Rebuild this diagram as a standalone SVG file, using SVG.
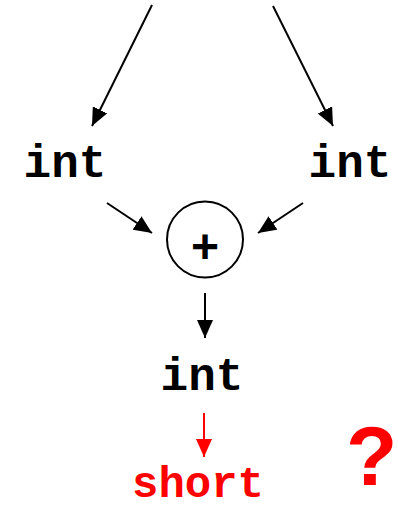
<svg xmlns="http://www.w3.org/2000/svg" width="398" height="511" viewBox="0 0 398 511">
<style>
.t{font-family:"Liberation Mono","Courier New",monospace;font-weight:bold;font-size:46px}
.blk{fill:#000}
.red{fill:#ff0000}
.c{stroke:#000;stroke-width:2;fill:none}
.cr{stroke:#ff0000;stroke-width:2;fill:none}
</style>
<defs>
<marker id="ahb" markerWidth="18" markerHeight="16" refX="18" refY="8" orient="auto" markerUnits="userSpaceOnUse" viewBox="0 0 18 16">
<path d="M0,0 L18,8 L0,16 z" fill="#000"/>
</marker>
<marker id="ahr" markerWidth="18" markerHeight="16" refX="18" refY="8" orient="auto" markerUnits="userSpaceOnUse" viewBox="0 0 18 16">
<path d="M0,0 L18,8 L0,16 z" fill="#ff0000"/>
</marker>
</defs>
<g id="connectors">
<line class="c" x1="152" y1="5" x2="92" y2="126" marker-end="url(#ahb)"/>
<line class="c" x1="273" y1="6" x2="333" y2="126" marker-end="url(#ahb)"/>
<line class="c" x1="107" y1="203" x2="152" y2="233" marker-end="url(#ahb)"/>
<line class="c" x1="303" y1="203" x2="258" y2="233" marker-end="url(#ahb)"/>
<line class="c" x1="205" y1="293" x2="205" y2="338" marker-end="url(#ahb)"/>
<line class="cr" x1="204" y1="413" x2="204" y2="457" marker-end="url(#ahr)"/>
</g>
<g id="int-left"><text class="t blk" x="65" y="177" text-anchor="middle">int</text></g>
<g id="int-right"><text class="t blk" x="350" y="177" text-anchor="middle">int</text></g>
<g id="plus">
<circle cx="205" cy="239.5" r="38" fill="#fff" stroke="#000" stroke-width="2"/>
<text x="205" y="263" text-anchor="middle" style="font-family:'Liberation Sans',Arial,sans-serif;font-weight:bold;font-size:48px" fill="#000">+</text>
</g>
<g id="int-result"><text class="t blk" x="202" y="390" text-anchor="middle">int</text></g>
<g id="short"><text class="t red" x="198" y="497" text-anchor="middle" style="font-size:44px">short</text></g>
<g id="question"><text x="346" y="485" style="font-family:'Liberation Sans',Arial,sans-serif;font-weight:bold;font-size:84px" fill="#ff0000">?</text></g>
</svg>
